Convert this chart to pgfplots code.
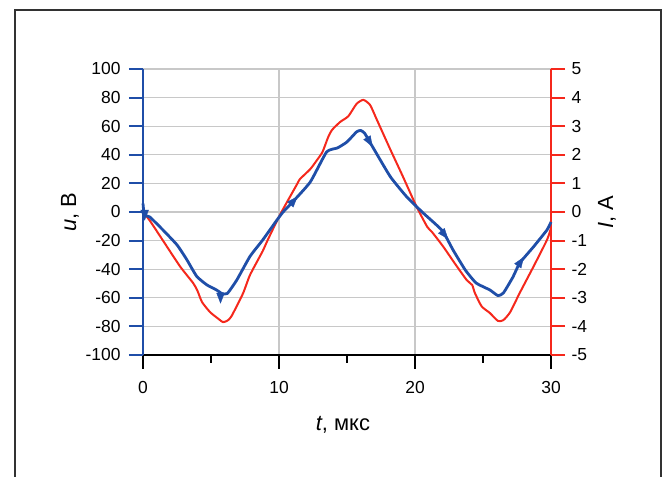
\documentclass[border=0pt]{standalone}
\usepackage{pgfplots}
\pgfplotsset{compat=1.18}
\usepackage{fontspec}
\setmainfont{Liberation Sans}
\definecolor{cblue}{RGB}{31,78,168}
\definecolor{cred}{RGB}{245,40,28}
\definecolor{cgrid}{RGB}{200,200,200}
\definecolor{cframe}{RGB}{50,50,50}

\pgfplotstableread{
t I
0 0
0.5 -0.3
1.47 -1.0
2.72 -1.9
3.68 -2.48
4.0 -2.75
4.34 -3.15
4.93 -3.5
5.5 -3.72
5.88 -3.85
6.2 -3.8
6.5 -3.65
7.35 -2.85
7.87 -2.2
8.82 -1.35
9.1 -1.05
10.07 -0.1
11.3 0.95
11.54 1.15
12.3 1.5
12.8 1.82
13.2 2.1
13.6 2.6
13.9 2.87
14.5 3.15
15.1 3.35
15.7 3.78
16.2 3.92
16.7 3.74
17.2 3.22
18.2 2.17
19.1 1.25
20.1 0.2
20.9 -0.52
21.25 -0.7
22.06 -1.2
22.9 -1.78
23.8 -2.38
24.2 -2.55
24.4 -2.83
24.9 -3.3
25.5 -3.53
26.1 -3.81
26.5 -3.78
27.0 -3.5
27.7 -2.83
28.7 -1.92
29.7 -0.98
30.0 -0.56
}\redtable

\pgfplotstableread{
t u
0 6
0.1 -2
0.5 -3.5
1.47 -12.6
2.5 -23
3.2 -33
3.95 -45
4.7 -51
5.4 -54.5
5.8 -57
6.2 -57
6.9 -47.5
7.87 -31
8.8 -19.6
9.85 -5.6
10.3 0
11 7
12.3 21
13.5 42
14.3 44.8
15 49
15.7 56
16.0 57
16.3 55
17.1 42
18.2 24.5
19.4 10.5
20.6 -0.7
22.0 -13
22.8 -26.6
23.7 -40.6
24.5 -49.7
25.5 -54.5
26.1 -58.5
26.5 -56.6
27.2 -45.5
27.7 -35.7
28.7 -24.5
29.7 -12.6
30 -7
}\bluetable

\begin{document}
\begin{tikzpicture}[x=1bp,y=1bp]
\useasboundingbox (0,0) rectangle (665,477);
\draw[cframe, line width=1.3bp] (15,-2) -- (15,467) -- (661,467) -- (661,-2);

\pgfplotsset{
  base/.style={
    at={(143bp,122bp)}, anchor=south west,
    scale only axis, width=408bp, height=286bp,
    xmin=0, xmax=30,
    tick label style={font=\fontsize{17.5}{20}\selectfont},
    tick align=outside,
    major tick length=14bp, minor tick length=8bp,
  },
  arr/.style={cblue, only marks, mark=triangle*, mark size=4.5bp, mark options={rotate=#1, yscale=1.5}},
}

% axis 1: grid, left blue axis, bottom axis
\begin{axis}[base,
  ymin=-100, ymax=100,
  axis x line*=bottom, axis y line*=left,
  x axis line style={black, line width=2bp, -},
  y axis line style={cblue, line width=2bp, -},
  xtick={0,10,20,30}, xticklabels={0,10,20,30},
  minor xtick={5,15,25},
  ytick={-100,-80,-60,-40,-20,0,20,40,60,80,100},
  yticklabels={-100,-80,-60,-40,-20,0,20,40,60,80,100},
  xtick style={black, line width=2bp},
  ytick style={cblue, line width=2bp},
  xticklabel style={yshift=-9bp},
  yticklabel style={xshift=-5bp},
  grid=major,
  major grid style={cgrid, line width=1.2bp},
  xlabel={\textit{t}, мкс},
  ylabel={\textit{u}, В},
  every axis x label/.style={at={(axis description cs:0.49,-0.245)}, anchor=center, font=\fontsize{22}{26}\selectfont},
  every axis y label/.style={at={(axis description cs:-0.179,0.5)}, anchor=center, rotate=90, font=\fontsize{22}{26}\selectfont},
]
\end{axis}

% axis 2: right red axis and current
\begin{axis}[base,
  ymin=-5, ymax=5,
  axis y line*=right, axis x line=none,
  y axis line style={cred, line width=2bp, -},
  xtick=\empty,
  ytick={-5,-4,-3,-2,-1,0,1,2,3,4,5},
  yticklabels={-5,-4,-3,-2,-1,0,1,2,3,4,5},
  ytick style={cred, line width=2bp},
  yticklabel style={xshift=3bp},
  ylabel={\textit{I}, А},
  every axis y label/.style={at={(axis description cs:1.137,0.5)}, anchor=center, rotate=90, font=\fontsize{22}{26}\selectfont},
  clip=false,
]
\addplot[cred, line width=2bp, line join=round, smooth, tension=0.35] table[x=t, y=I] {\redtable};
\end{axis}

% axis 3: voltage
\begin{axis}[base,
  ymin=-100, ymax=100,
  hide axis, clip=false,
]
\addplot[cblue, line width=2.8bp, line join=round, smooth, tension=0.3] table[x=t, y=u] {\bluetable};
\addplot[arr=180] coordinates {(0.12,-1) (5.7,-59)};
\addplot[arr=-42] coordinates {(11,7)};
\addplot[arr=-150] coordinates {(16.6,50)};
\addplot[arr=-141] coordinates {(22.1,-15)};
\addplot[arr=-34] coordinates {(27.7,-35.7)};
\end{axis}
\end{tikzpicture}
\end{document}
